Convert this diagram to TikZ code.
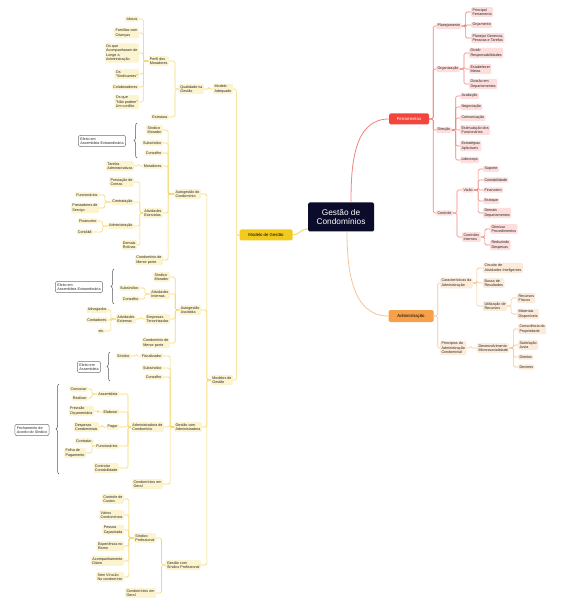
\documentclass[tikz,border=0pt]{standalone}
\usepackage{fontspec}
\setmainfont{Liberation Sans}
\usetikzlibrary{decorations.pathreplacing}
\definecolor{ylwBg}{HTML}{FCF3CF}
\definecolor{ylwLn}{HTML}{F6D86A}
\definecolor{ylwMain}{HTML}{F2CA1E}
\definecolor{pnkBg}{HTML}{FDDEDC}
\definecolor{redLn}{HTML}{F2827A}
\definecolor{redMain}{HTML}{F2463C}
\definecolor{orgBg}{HTML}{FDEBDA}
\definecolor{orgLn}{HTML}{F8C495}
\definecolor{orgMain}{HTML}{F6A04A}
\definecolor{navy}{HTML}{0B0B2B}
% connectors: parent, child, distance to the bus line
\newcommand{\lkl}[3][4]{\draw[lnY] (#2.west) -- ++(-#1,0) |- (#3.east);}
\newcommand{\lkr}[3][4]{\draw[lnR] (#2.east) -- ++(#1,0) |- (#3.west);}
\newcommand{\lko}[3][4]{\draw[lnO] (#2.east) -- ++(#1,0) |- (#3.west);}
\begin{document}
\begin{tikzpicture}[x=1pt, y=-1pt,
    box/.style={rounded corners=1.2pt, inner sep=1.3pt, align=left,
        font=\fontsize{3.7}{4.4}\selectfont, text=black!85},
    nY/.style={box, fill=ylwBg, anchor=east},
    nR/.style={box, fill=pnkBg, anchor=west},
    nO/.style={box, fill=orgBg, anchor=west},
    nota/.style={box, fill=white, draw=black!55, line width=0.5pt, rounded corners=2pt, inner sep=2pt},
    main/.style={rounded corners=1.5pt, font=\fontsize{4.3}{5}\selectfont, minimum height=11},
    lnY/.style={draw=ylwLn, line width=0.6pt, rounded corners=1.5pt},
    lnR/.style={draw=redLn, line width=0.6pt, rounded corners=1.5pt},
    lnO/.style={draw=orgLn, line width=0.6pt, rounded corners=1.5pt},
    brc/.style={draw=black!65, line width=0.5pt, decorate, decoration={brace, amplitude=3pt}}]
    \fill[white] (0,0) rectangle (570,609);
    \useasboundingbox (0,0) rectangle (570,609);

    % centre and main branches
    \node[fill=navy, text=white, rounded corners=1.5pt, minimum width=66, minimum height=29,
        align=center, font=\fontsize{8.3}{9.6}\selectfont] (root) at (341,217) {Gestão de\\Condomínios};
    \node[main, fill=ylwMain, minimum width=53] (mg) at (266,235) {Modelo de Gestão};
    \node[main, fill=redMain, text=white, minimum width=40] (fer) at (409,119) {Ferramentas};
    \node[main, fill=orgMain, minimum width=45, minimum height=12] (adm) at (411,316) {Administração};
    \draw[lnY, line width=1pt] ([yshift=3pt]root.south west) to[out=180,in=0] (mg.east);
    \draw[lnR, line width=0.8pt] ([xshift=10pt]root.north) to[out=90,in=180] (fer.west);
    \draw[lnO, line width=0.8pt] ([xshift=6pt]root.south) to[out=-90,in=180] (adm.west);

    % Modelo de Gestao
    \node[nY] (madq) at (233,89) {Modelo\\Adequado};
    \node[nY] (mods) at (233,380) {Modelos de\\Gestão};
    \node[nY] (qual) at (204,89) {Qualidade na\\Gestão};
    \node[nY] (perfil) at (169,61) {Perfil dos\\Moradores};
    \node[nY] (estr) at (169,117) {Estrutura};
    \node[nY] (idosos) at (139,19) {Idosos};
    \node[nY] (famil) at (139,33) {Famílias com\\Crianças};
    \node[nY] (longe) at (139,53) {Os que\\Acompanharam de\\Longe a\\Administração};
    \node[nY] (sind) at (139,74) {Os\\"Sindicantes"};
    \node[nY] (colab) at (139,87) {Colaboradores};
    \node[nY] (naop) at (139,102) {Os que\\"Não podem"\\Um conflito};
    \lkl[3]{mg}{madq} \lkl[3]{mg}{mods}
    \lkl{madq}{qual}
    \lkl{qual}{perfil} \lkl{qual}{estr}
    \foreach \c in {idosos,famil,longe,sind,colab,naop} {\lkl[5]{perfil}{\c}}

    % Autogestao do Condominio
    \node[nY] (autoc) at (201,194) {Autogestão do\\Condomínio};
    \node[nY] (autoa) at (201,310) {Autogestão\\Assistida};
    \node[nY] (gadm) at (202,427) {Gestão com\\Administradora};
    \node[nY] (gsp) at (201,565) {Gestão com\\Síndico Profissional};
    \foreach \c in {autoc,autoa,gadm,gsp} {\lkl{mods}{\c}}
    \node[nY] (smA) at (163,130) {Síndico\\Morador};
    \node[nY] (subA) at (163,143) {Subsíndico};
    \node[nY] (conA) at (163,153) {Conselho};
    \node[nY] (morA) at (163,166) {Moradores};
    \node[nY] (atvA) at (163,213) {Atividades\\Exercidas};
    \node[nY] (cmpA) at (163,260) {Condomínio de\\Menor porte};
    \node[nY] (tarA) at (134,166) {Tarefas\\Administrativas};
    \node[nY] (prcA) at (134,182) {Prestação de\\Contas};
    \node[nY] (ctrA) at (134,202) {Contratação};
    \node[nY] (admA) at (134,226) {Administração};
    \node[nY] (demA) at (137,245) {Demais\\Rotinas};
    \node[nY] (funA) at (99,195) {Funcionários};
    \node[nY] (prsA) at (99,208) {Prestadores de\\Serviço};
    \node[nY] (finA) at (98,221) {Financeiro};
    \node[nY] (cntA) at (93,232) {Contábil};
    \foreach \c in {smA,subA,conA,morA,atvA,cmpA} {\lkl[6]{autoc}{\c}}
    \lkl{morA}{tarA}
    \foreach \c in {prcA,ctrA,admA,demA} {\lkl[3]{atvA}{\c}}
    \lkl[6]{ctrA}{funA} \lkl[6]{ctrA}{prsA}
    \lkl[5]{admA}{finA} \lkl[5]{admA}{cntA}
    \node[nota] (notaA) at (102,141) {Eleito em\\Assembleia Extraordinária};
    \draw[brc] (137,158) -- (137,123);

    % Autogestao Assistida
    \node[nY] (smB) at (170,277) {Síndico\\Morador};
    \node[nY] (atiB) at (170,294) {Atividades\\Internas};
    \node[nY] (empB) at (170,319) {Empresas\\Terceirizadas};
    \node[nY] (cmpB) at (170,343) {Condomínio de\\Menor porte};
    \node[nY] (subB) at (140,288) {Subsíndico};
    \node[nY] (conB) at (140,299) {Conselho};
    \node[nY] (atxB) at (136,319) {Atividades\\Externas};
    \node[nY] (advB) at (108,310) {Advogados};
    \node[nY] (ctdB) at (108,320) {Contadores};
    \node[nY] (etcB) at (105,331) {etc};
    \foreach \c in {smB,atiB,empB,cmpB} {\lkl{autoa}{\c}}
    \lkl[5]{atiB}{subB} \lkl[5]{atiB}{conB}
    \lkl{empB}{atxB}
    \foreach \c in {advB,ctdB,etcB} {\lkl[5]{atxB}{\c}}
    \node[nota] (notaB) at (79,287) {Eleito em\\Assembleia Extraordinária};
    \draw[brc] (114,304) -- (114,269);

    % Gestao com Administradora
    \node[nY] (fisC) at (163,356) {Fiscalizador};
    \node[nY] (sinC) at (131,356) {Síndico};
    \node[nY] (subC) at (163,368) {Subsíndico};
    \node[nY] (conC) at (163,377) {Conselho};
    \node[nY] (admC) at (164,427) {Administradora de\\Condomínio};
    \node[nY] (cgC) at (163,484) {Condomínios em\\Geral};
    \foreach \c in {fisC,subC,conC,admC,cgC} {\lkl{gadm}{\c}}
    \lkl{fisC}{sinC}
    \node[nota] (notaC) at (89,367) {Eleito em\\Assembleia};
    \draw[brc] (110,381) -- (110,352);
    \node[nY] (asmC) at (119,394) {Assembleia};
    \node[nY] (elbC) at (119,412) {Elaborar};
    \node[nY] (pagC) at (119,427) {Pagar};
    \node[nY] (fncC) at (119,446) {Funcionários};
    \node[nY] (ccC) at (119,468) {Controlar\\Contabilidade};
    \node[nY] (cvcC) at (88,389) {Convocar};
    \node[nY] (rlzC) at (88,398) {Realizar};
    \node[nY] (prvC) at (94,411) {Previsão\\Orçamentária};
    \node[nY] (dspC) at (99,427) {Despesas\\Condominiais};
    \node[nY] (ctrC) at (93,441) {Contratar};
    \node[nY] (flhC) at (86,453) {Folha de\\Pagamento};
    \foreach \c in {asmC,elbC,pagC,fncC,ccC} {\lkl[3]{admC}{\c}}
    \lkl[5]{asmC}{cvcC} \lkl[5]{asmC}{rlzC}
    \lkl{elbC}{prvC} \lkl{pagC}{dspC}
    \lkl[3]{fncC}{ctrC} \lkl[3]{fncC}{flhC}
    \node[nota] (notaD) at (32,430) {Fechamento de\\Acordo do Síndico};
    \draw[brc] (59,474) -- (59,384);

    % Gestao com Sindico Profissional
    \node[nY] (spD) at (156,538) {Síndico\\Profissional};
    \node[nY] (cgD) at (156,593) {Condomínios em\\Geral};
    \node[nY] (ccD) at (124,499) {Controle de\\Custos};
    \node[nY] (vcD) at (124,515) {Vários\\Condomínios};
    \node[nY] (pcD) at (124,530) {Pessoa\\Capacitada};
    \node[nY] (exD) at (124,546) {Experiência no\\Ramo};
    \node[nY] (acD) at (124,561) {Acompanhamento\\Diário};
    \node[nY] (svD) at (124,577) {Sem Vínculo\\No condomínio};
    \lkl{gsp}{spD} \lkl{gsp}{cgD}
    \foreach \c in {ccD,vcD,pcD,exD,acD,svD} {\lkl[5]{spD}{\c}}

    % Ferramentas
    \node[nR] (plan) at (436,26) {Planejamento};
    \node[nR] (org) at (436,69) {Organização};
    \node[nR] (dir) at (436,130) {Direção};
    \node[nR] (ctl) at (436,213) {Controle};
    \node[nR] (pf) at (471,12) {Principal\\Ferramenta};
    \node[nR] (orc) at (471,25) {Orçamento};
    \node[nR] (plg) at (471,38) {Planejar Gerencia,\\Pessoas e Tarefas};
    \node[nR] (dvr) at (469,53) {Dividir\\Responsabilidades};
    \node[nR] (est) at (469,69) {Estabelecer\\Metas};
    \node[nR] (ddp) at (469,84) {Divisão em\\Departamentos};
    \node[nR] (avl) at (460,96) {Avaliação};
    \node[nR] (neg) at (460,107) {Negociação};
    \node[nR] (com) at (460,118) {Comunicação};
    \node[nR] (esf) at (460,130) {Estimulação dos\\Funcionários};
    \node[nR] (eap) at (460,146) {Estratégias\\Aplicáveis};
    \node[nR] (lid) at (460,160) {Liderança};
    \node[nR] (vis) at (462,190) {Visão};
    \node[nR] (cti) at (462,237) {Controles\\Internos};
    \node[nR] (sup) at (483,169) {Suporte};
    \node[nR] (ctb) at (483,180) {Contabilidade};
    \node[nR] (fin) at (483,190) {Financeiro};
    \node[nR] (etq) at (483,201) {Estoque};
    \node[nR] (dmd) at (483,213) {Demais\\Departamentos};
    \node[nR] (otm) at (490,229) {Otimizar\\Procedimentos};
    \node[nR] (rdz) at (490,245) {Reduzindo\\Despesas};
    \foreach \c in {plan,org,dir,ctl} {\lkr{fer}{\c}}
    \foreach \c in {pf,orc,plg} {\lkr{plan}{\c}}
    \foreach \c in {dvr,est,ddp} {\lkr{org}{\c}}
    \foreach \c in {avl,neg,com,esf,eap,lid} {\lkr{dir}{\c}}
    \lkr{ctl}{vis} \lkr{ctl}{cti}
    \foreach \c in {sup,ctb,fin,etq,dmd} {\lkr{vis}{\c}}
    \lkr{cti}{otm} \lkr{cti}{rdz}

    % Administracao
    \node[nO] (car) at (440,283) {Características da\\Administração};
    \node[nO] (prn) at (440,348) {Princípios da\\Administração\\Condominial};
    \node[nO] (cai) at (483,268) {Circuito de\\Atividades Inteligentes};
    \node[nO] (bsc) at (483,283) {Busca de\\Resultados};
    \node[nO] (utl) at (483,306) {Utilização de\\Recursos};
    \node[nO] (rfs) at (517,298) {Recursos\\Físicos};
    \node[nO] (mtd) at (517,314) {Materiais\\Disponíveis};
    \node[nO] (dsv) at (477,348) {Desenvolvimento\\Microssocialidade};
    \node[nO] (cns) at (518,329) {Consciência da\\Propriedade};
    \node[nO] (stj) at (518,345) {Satisfação\\Justa};
    \node[nO] (drt) at (518,357) {Direitos};
    \node[nO] (dvs) at (518,367) {Deveres};
    \lko{adm}{car} \lko{adm}{prn}
    \foreach \c in {cai,bsc,utl} {\lko{car}{\c}}
    \lko{utl}{rfs} \lko{utl}{mtd}
    \lko{prn}{dsv}
    \foreach \c in {cns,stj,drt,dvs} {\lko{dsv}{\c}}
\end{tikzpicture}
\end{document}
